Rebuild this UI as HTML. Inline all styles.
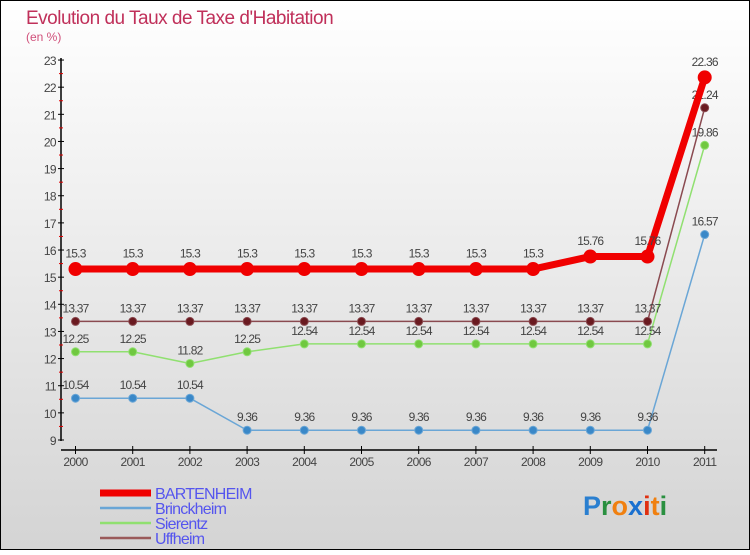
<!DOCTYPE html>
<html><head><meta charset="utf-8"><style>
html,body{margin:0;padding:0;}
body{width:750px;height:550px;overflow:hidden;font-family:"Liberation Sans",sans-serif;}
svg text{font-family:"Liberation Sans",sans-serif;}
</style></head><body>
<svg id="chart" width="750" height="550" xmlns="http://www.w3.org/2000/svg">
<defs><linearGradient id="bg" x1="0" y1="0" x2="0" y2="1"><stop offset="0" stop-color="#ffffff"/><stop offset="1" stop-color="#d4d4d4"/></linearGradient></defs>
<rect x="0.5" y="0.5" width="749" height="549" fill="url(#bg)" stroke="#000"/>
<text x="26" y="24" font-size="19" fill="#c0305a" letter-spacing="-0.5">Evolution du Taux de Taxe d'Habitation</text>
<text x="26" y="41" font-size="12" fill="#d0507a">(en %)</text>
<g id="axes"></g><g id="series"></g><g id="legend"></g>
<g font-size="27" font-weight="bold">
<text x="583" y="515"><tspan fill="#2a7fd0">P</tspan><tspan fill="#2a9040">r</tspan><tspan fill="#f08010">o</tspan><tspan fill="#1a70d0">x</tspan><tspan fill="#e03010">i</tspan><tspan fill="#f08010">t</tspan><tspan fill="#2a9040">i</tspan></text>
</g>
</svg>
<script>
const years=["2000","2001","2002","2003","2004","2005","2006","2007","2008","2009","2010","2011"];
const yTicks=[9,10,11,12,13,14,15,16,17,18,19,20,21,22,23];
const bartenheim=[15.3,15.3,15.3,15.3,15.3,15.3,15.3,15.3,15.3,15.76,15.76,22.36];
const brinckheim=[10.54,10.54,10.54,9.36,9.36,9.36,9.36,9.36,9.36,9.36,9.36,16.57];
const sierentz=[12.25,12.25,11.82,12.25,12.54,12.54,12.54,12.54,12.54,12.54,12.54,19.86];
const uffheim=[13.37,13.37,13.37,13.37,13.37,13.37,13.37,13.37,13.37,13.37,13.37,21.24];
const seriesNames=["BARTENHEIM","Brinckheim","Sierentz","Uffheim"];
const NS="http://www.w3.org/2000/svg";
const x=i=>75.5+i*57.2;
const y=v=>440-(v-9)*27.14;
function mk(tag,attrs,parent,txt){const e=document.createElementNS(NS,tag);for(const k in attrs)e.setAttribute(k,attrs[k]);if(txt!==undefined)e.textContent=txt;parent.appendChild(e);return e;}
const axes=document.getElementById('axes');
let a=mk('line',{x1:61,y1:58,x2:61,y2:441,stroke:'#000','stroke-width':1.5},axes);

a=mk('line',{x1:61,y1:450,x2:717,y2:450,stroke:'#000','stroke-width':1.5},axes);

yTicks.forEach(t=>{
 mk('line',{x1:58,y1:y(t),x2:64,y2:y(t),stroke:'#000'},axes);
 if(t<23)mk('line',{x1:59,y1:y(t+0.5),x2:63,y2:y(t+0.5),stroke:'#e00000'},axes);
 const l=mk('text',{x:56,y:y(t)+5,'font-size':12,fill:'#444','text-anchor':'end','letter-spacing':'-0.6'},axes,String(t));
 
});
years.forEach((yr,i)=>{
 mk('line',{x1:x(i),y1:446,x2:x(i),y2:454,stroke:'#000'},axes);
 const l=mk('text',{x:x(i),y:466,'font-size':12,fill:'#444','text-anchor':'middle','letter-spacing':'-0.6'},axes,yr);
 
});
const sg=document.getElementById('series');
function draw(data,color,w,r,name,fill){
 const g=mk('g',{},sg);
 
 const pts=data.map((v,i)=>x(i)+','+y(v)).join(' ');
 mk('polyline',{points:pts,fill:'none',stroke:color,'stroke-width':w,'stroke-linejoin':'round'},g);
 data.forEach((v,i)=>{
  const c=mk('circle',{cx:x(i),cy:y(v),r:r,fill:fill,stroke:color,'stroke-width':1},g);
  
  const t=mk('text',{x:x(i),y:y(v)-r-5,'font-size':12,fill:'#444','text-anchor':'middle','letter-spacing':'-0.8'},g,String(v));
  
 });
}
draw(brinckheim,'#6aa6d6',1.5,4,'brinckheim','#3a88c8');
draw(sierentz,'#90e070',1.5,4,'sierentz','#70c840');
draw(uffheim,'#8a4a50',1.5,4,'uffheim','#6a1a20');
draw(bartenheim,'#f00000',7,6.5,'bartenheim','#f00000');
const lg=document.getElementById('legend');
const lc=['#f00000','#6aa6d6','#90e070','#9a5a5a'];const lw=[7,2.5,2.5,2.5];
seriesNames.forEach((n,i)=>{
 const yy=493+i*15;
 const g=mk('g',{},lg);
 
 mk('line',{x1:100,y1:yy,x2:151,y2:yy,stroke:lc[i],'stroke-width':lw[i]},g);
 mk('text',{x:155,y:yy+6,'font-size':16,fill:'#5555ee','letter-spacing':'-0.8'},g,n);
});
</script>
</body></html>
